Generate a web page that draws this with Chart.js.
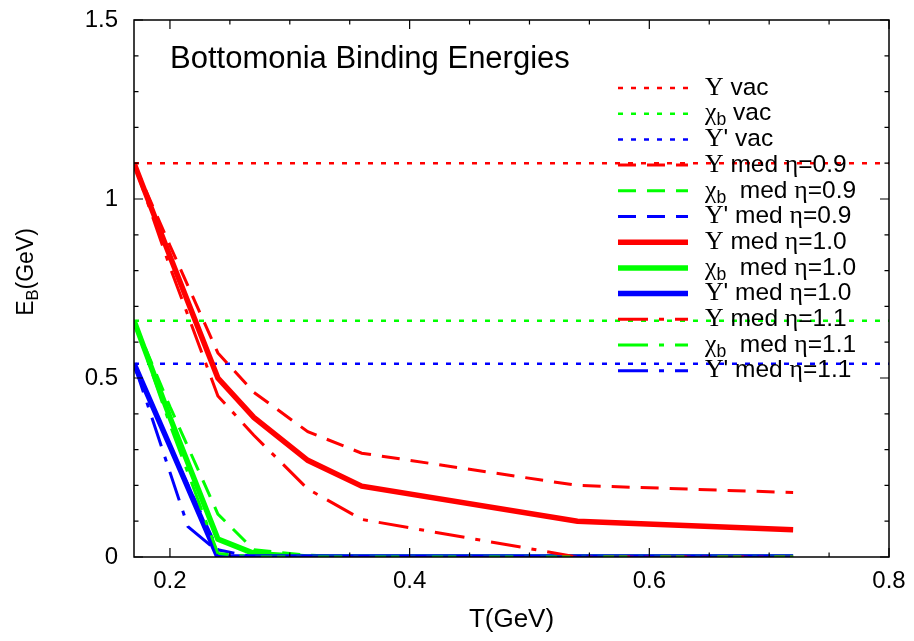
<!DOCTYPE html>
<html>
<head>
<meta charset="utf-8">
<script src="https://cdn.jsdelivr.net/npm/chart.js@4/dist/chart.umd.min.js"></script>
<style>
  html, body { margin: 0; padding: 0; background: #fff; }
</style>
</head>
<body>
<canvas id="grafico" width="914" height="641"></canvas>
<script>
// temperaturas (GeV)
const temperatura = [0.17, 0.2, 0.24, 0.27, 0.315, 0.36, 0.54, 0.72];
const faixaT = [0.17, 0.8];

// energias de ligacao no vacuo
const vacuo = [1.1, 0.66, 0.54];

// Upsilon(1S)
const ups09 = [1.1, 0.87, 0.57, 0.46, 0.35, 0.29, 0.20, 0.18];
const ups10 = [1.1, 0.84, 0.50, 0.39, 0.27, 0.198, 0.10, 0.076];
const ups11 = [1.1, 0.81, 0.45, 0.34, 0.19, 0.105, 0.0, 0.0];

// chi_b
const chi09 = [0.66, 0.42, 0.12, 0.02, 0.005, 0, 0, 0];
const chi10 = [0.66, 0.39, 0.05, 0.01, 0, 0, 0, 0];
const chi11 = [0.66, 0.37, 0.01, 0, 0, 0, 0, 0];

// Upsilon'
const upsl09 = [0.54, 0.31, 0.02, 0, 0, 0, 0, 0];
const upsl10 = [0.54, 0.31, 0, 0, 0, 0, 0, 0];
const temperaturaUpsl11 = [0.17, 0.215, 0.235, 0.24, 0.27, 0.315, 0.36, 0.54, 0.72];
const upsl11 = [0.54, 0.085, 0.029, 0, 0, 0, 0, 0, 0];

const xTicks = [0.2, 0.4, 0.6, 0.8];
const yTicks = [0, 0.5, 1, 1.5];

const rotulos = [
  'Υ vac', 'χ_b vac', "Υ' vac",
  'Υ med η=0.9', 'χ_b  med η=0.9', "Υ' med η=0.9",
  'Υ med η=1.0', 'χ_b  med η=1.0', "Υ' med η=1.0",
  'Υ med η=1.1', 'χ_b  med η=1.1', "Υ' med η=1.1"
];

const VERMELHO = '#ff0000', VERDE = '#00ff00', AZUL = '#0000ff';
const SANS = "'Liberation Sans', Arial, sans-serif";
const SERIF = "'Liberation Serif', 'Times New Roman', serif";

function serie(ts, es) {
  return ts.map((t, i) => ({ x: t, y: es[i] }));
}

const estilos = {
  vac: { borderWidth: 2.5, borderDash: [5, 8] },
  eta09: { borderWidth: 3, borderDash: [18, 11] },
  eta10: { borderWidth: 5.5, borderDash: [] },
  eta11: { borderWidth: 3, borderDash: [30, 11, 5, 11] }
};

const curvas = [
  [serie(faixaT, [vacuo[0], vacuo[0]]), VERMELHO, 'vac'],
  [serie(faixaT, [vacuo[1], vacuo[1]]), VERDE, 'vac'],
  [serie(faixaT, [vacuo[2], vacuo[2]]), AZUL, 'vac'],
  [serie(temperatura, ups09), VERMELHO, 'eta09'],
  [serie(temperatura, chi09), VERDE, 'eta09'],
  [serie(temperatura, upsl09), AZUL, 'eta09'],
  [serie(temperatura, ups10), VERMELHO, 'eta10'],
  [serie(temperatura, chi10), VERDE, 'eta10'],
  [serie(temperatura, upsl10), AZUL, 'eta10'],
  [serie(temperatura, ups11), VERMELHO, 'eta11'],
  [serie(temperatura, chi11), VERDE, 'eta11'],
  [serie(temperaturaUpsl11, upsl11), AZUL, 'eta11']
];

const datasets = curvas.map((c, i) => ({
  label: rotulos[i],
  data: c[0],
  borderColor: c[1],
  backgroundColor: c[1],
  borderWidth: estilos[c[2]].borderWidth,
  borderDash: estilos[c[2]].borderDash,
  borderCapStyle: 'butt',
  pointRadius: 0,
  fill: false,
  tension: 0,
  order: -i // ultima curva por cima
}));

// texto com letras gregas em serifa e subscrito marcado com "_"
function partes(str, size) {
  const out = [];
  for (let i = 0; i < str.length; i++) {
    const c = str[i];
    if (c === '_') {
      out.push({ t: str[i + 1], font: (size * 0.72) + 'px ' + SANS, dy: size * 0.28 });
      i++;
    } else if ('Υχη'.includes(c)) {
      out.push({ t: c, font: (size * 1.05) + 'px ' + SERIF, dy: 0 });
    } else {
      out.push({ t: c, font: size + 'px ' + SANS, dy: 0 });
    }
  }
  return out;
}

function textoRico(ctx, str, x, y, size, align) {
  const ps = partes(str, size);
  let total = 0;
  ps.forEach(p => { ctx.font = p.font; p.w = ctx.measureText(p.t).width; total += p.w; });
  let cx = align === 'center' ? x - total / 2 : x;
  ctx.textAlign = 'left';
  ps.forEach(p => {
    ctx.font = p.font;
    ctx.fillText(p.t, cx, y + p.dy);
    cx += p.w;
  });
}

const decoracao = {
  id: 'decoracao',
  afterDraw(chart) {
    const ctx = chart.ctx;
    const a = chart.chartArea;
    const sx = chart.scales.x, sy = chart.scales.y;
    ctx.save();
    ctx.strokeStyle = '#000';
    ctx.fillStyle = '#000';

    // moldura
    ctx.lineWidth = 1.5;
    ctx.strokeRect(a.left, a.top, a.right - a.left, a.bottom - a.top);

    // marcas para dentro nos quatro lados
    ctx.lineWidth = 1.2;
    ctx.beginPath();
    for (let v = 0.15; v <= 0.8001; v += 0.05) {
      if (v < sx.min) continue;
      const px = sx.getPixelForValue(v);
      const major = xTicks.some(t => Math.abs(t - v) < 1e-6);
      const len = major ? 9 : 4.5;
      ctx.moveTo(px, a.bottom); ctx.lineTo(px, a.bottom - len);
      ctx.moveTo(px, a.top); ctx.lineTo(px, a.top + len);
    }
    for (let v = 0; v <= 1.5001; v += 0.1) {
      const py = sy.getPixelForValue(v);
      const major = yTicks.some(t => Math.abs(t - v) < 1e-6);
      const len = major ? 9 : 4.5;
      ctx.moveTo(a.left, py); ctx.lineTo(a.left + len, py);
      ctx.moveTo(a.right, py); ctx.lineTo(a.right - len, py);
    }
    ctx.stroke();

    // titulo dentro do grafico
    ctx.textBaseline = 'alphabetic';
    ctx.font = '31px ' + SANS;
    ctx.textAlign = 'left';
    ctx.fillText('Bottomonia Binding Energies', 170, 68);

    // titulos dos eixos
    ctx.textBaseline = 'middle';
    textoRico(ctx, 'T(GeV)', (a.left + a.right) / 2, 620, 26, 'center');
    ctx.save();
    ctx.translate(27, 272);
    ctx.rotate(-Math.PI / 2);
    textoRico(ctx, 'E_B(GeV)', 0, 0, 23, 'center');
    ctx.restore();

    // legenda
    chart.data.datasets.forEach((ds, i) => {
      const y = 88 + i * 25.7;
      ctx.save();
      ctx.strokeStyle = ds.borderColor;
      ctx.lineWidth = ds.borderWidth;
      ctx.setLineDash(ds.borderDash);
      ctx.lineCap = 'butt';
      ctx.beginPath();
      ctx.moveTo(618, y);
      ctx.lineTo(688, y);
      ctx.stroke();
      ctx.restore();
      ctx.fillStyle = '#000';
      ctx.textBaseline = 'middle';
      textoRico(ctx, ds.label, 705, y, 24.5, 'left');
    });
    ctx.restore();
  }
};

new Chart(document.getElementById('grafico'), {
  type: 'line',
  data: { datasets: datasets },
  options: {
    responsive: false,
    animation: false,
    devicePixelRatio: 1,
    layout: { padding: { top: 20, right: 25, left: 0, bottom: 0 } },
    plugins: { legend: { display: false }, tooltip: { enabled: false } },
    scales: {
      x: {
        type: 'linear',
        min: 0.17,
        max: 0.8,
        afterBuildTicks: s => { s.ticks = xTicks.map(v => ({ value: v })); },
        afterFit: s => { s.height = 84; s.paddingLeft = 0; s.paddingRight = 0; },
        grid: { display: false, drawTicks: false },
        border: { display: false },
        ticks: {
          padding: 10,
          color: '#000',
          font: { family: SANS, size: 24 },
          maxRotation: 0,
          autoSkip: false,
          callback: v => String(v)
        }
      },
      y: {
        type: 'linear',
        min: 0,
        max: 1.5,
        afterBuildTicks: s => { s.ticks = yTicks.map(v => ({ value: v })); },
        afterFit: s => { s.width = 134; s.paddingTop = 0; s.paddingBottom = 0; },
        grid: { display: false, drawTicks: false },
        border: { display: false },
        ticks: {
          padding: 16,
          color: '#000',
          font: { family: SANS, size: 24 },
          autoSkip: false,
          callback: v => String(v)
        }
      }
    }
  },
  plugins: [decoracao]
});
</script>
</body>
</html>
